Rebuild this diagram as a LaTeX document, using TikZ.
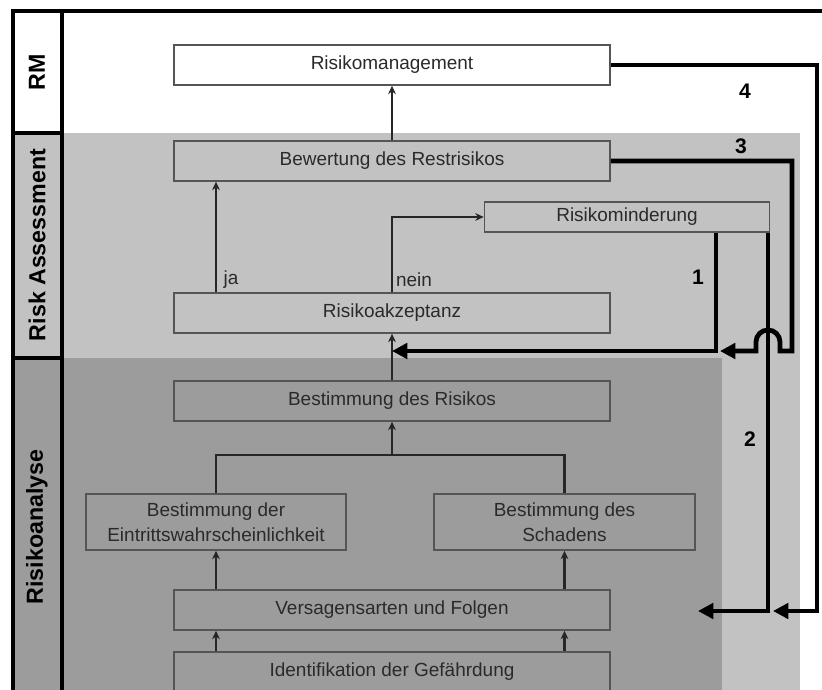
\documentclass[tikz,border=0pt]{standalone}
\usepackage{fontspec}
\setmainfont{Liberation Sans}
\usetikzlibrary{arrows.meta}
\definecolor{hell}{HTML}{C2C2C2}
\definecolor{dunkel}{HTML}{9C9C9C}
\definecolor{rand}{HTML}{555555}
\definecolor{schrift}{HTML}{2A2A2A}

\begin{document}
\begin{tikzpicture}[x=0.025cm, y=-0.025cm,
  kasten/.style={draw=rand, line width=1.1pt, minimum width=10.9cm, minimum height=1cm, inner sep=0pt, text=schrift, font=\fontsize{13.5}{18}\selectfont},
  beschr/.style={text=schrift, font=\fontsize{13.5}{16}\selectfont},
  pfeil/.style={line width=1.5pt, draw=black!85, -{Stealth[length=6pt,width=5.5pt]}},
  rueck/.style={line width=3.4pt, line join=miter, -{Triangle[length=11pt,width=11pt]}},
  spalte/.style={rotate=90, font=\fontsize{16.5}{19}\selectfont\bfseries},
  nummer/.style={font=\fontsize{15}{18}\selectfont\bfseries}]
\useasboundingbox (0,0) rectangle (822,690);
% Bereiche
\fill[hell] (62,133) rectangle (800,690);
\fill[dunkel] (62,358) rectangle (722,690);
\fill[hell] (13,133) rectangle (62,358);
\fill[dunkel] (13,358) rectangle (62,690);
\draw[line width=2.3pt] (822,11) -- (13,11) -- (13,692) (62,11) -- (62,692) (13,133) -- (62,133) (13,358) -- (62,358);
\node[spalte] (sRM) at (37,72) {RM};
\node[spalte] (sRA) at (37,245) {Risk Assessment};
\node[spalte] (sAN) at (37,527) {Risikoanalyse};
% Kaesten
\node[kasten, fill=white] (rm) at (392,65) {Risikomanagement};
\node[kasten] (bew) at (392,161) {Bewertung des Restrisikos};
\node[kasten, minimum width=7.125cm, minimum height=0.75cm] (mind) at (627,217) {Risikominderung};
\node[kasten] (akz) at (392,313) {Risikoakzeptanz};
\node[kasten] (best) at (392,401) {Bestimmung des Risikos};
\node[kasten, minimum width=6.5cm, minimum height=1.4cm, align=center] (eintr) at (216,522) {Bestimmung der\\Eintrittswahrscheinlichkeit};
\node[kasten, minimum width=6.525cm, minimum height=1.4cm, align=center] (schad) at (564.5,522) {Bestimmung des\\Schadens};
\node[kasten] (vers) at (392,610) {Versagensarten und Folgen};
\node[kasten] (ident) at (392,672) {Identifikation der Gefährdung};
% duenne Pfeile
\draw[pfeil] (bew) -- (rm);
\draw[pfeil] (akz.north -| eintr) -- (bew.south -| eintr);
\node[beschr] (ja) at (231,280) {ja};
\draw[pfeil] (akz) |- (mind);
\node[beschr] (nein) at (414,280) {nein};
\draw[pfeil] (best) -- (akz);
\coordinate (knoten) at (392,455);
\draw[line width=1.5pt, draw=black!85] (eintr) |- (knoten) -| (schad);
\draw[pfeil] (knoten) -- (best);
\draw[pfeil] (vers.north -| eintr) -- (eintr);
\draw[pfeil] (vers.north -| schad) -- (schad);
\draw[pfeil] (ident.north -| eintr) -- (vers.south -| eintr);
\draw[pfeil] (ident.north -| schad) -- (vers.south -| schad);
% Rueckfuehrungen
\coordinate (k1) at (716,351);
\coordinate (k2) at (768,611);
\coordinate (k3) at (792,351);
\coordinate (k4) at (817,611);
\coordinate (e2) at (698,611);
\coordinate (e4) at (773,611);
\draw[rueck] (mind.south -| k1) -- (k1) -- (akz.south |- k1);
\draw[rueck, shorten >=0.1cm] (bew.east) -| (k3) -- ++(-12,0) -- ++(0,-9) arc[start angle=0, end angle=180, radius=0.3cm] -- ++(0,9) -- (k1);
\draw[rueck] (mind.south -| k2) -- (k2) -- (e2);
\draw[rueck] (rm.east) -| (k4) -- (e4);
\node[nummer] (n1) at (698,277) {1};
\node[nummer] (n2) at (750,439) {2};
\node[nummer] (n3) at (741,146) {3};
\node[nummer] (n4) at (745,91) {4};
\end{tikzpicture}
\end{document}
